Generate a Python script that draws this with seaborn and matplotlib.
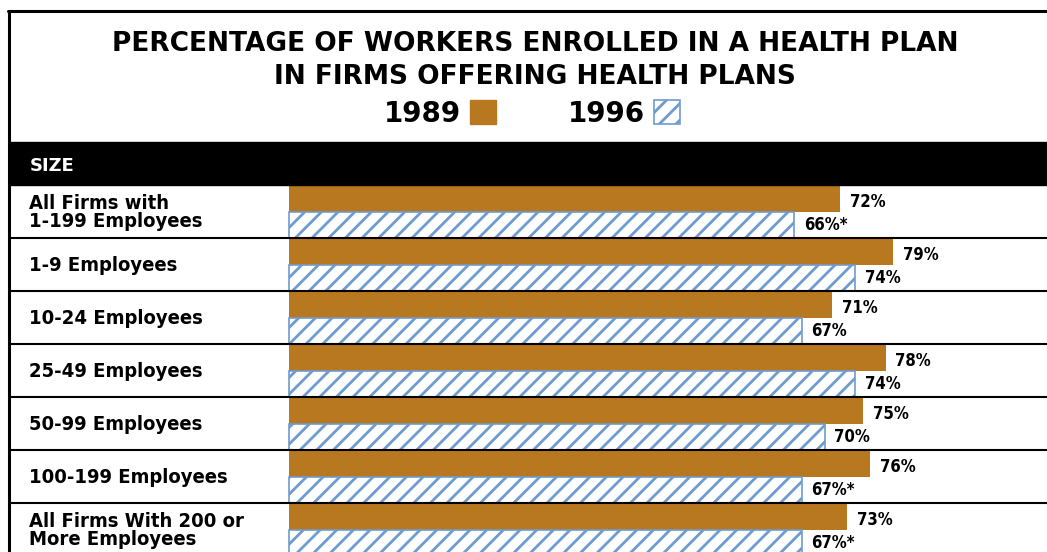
import numpy as np
import pandas as pd
import matplotlib
matplotlib.use("Agg")
import matplotlib.pyplot as plt
from matplotlib.patches import Rectangle, Patch
from matplotlib.lines import Line2D
import seaborn as sns

# data
sizes = ["All Firms with\n1-199 Employees", "1-9 Employees", "10-24 Employees",
         "25-49 Employees", "50-99 Employees", "100-199 Employees",
         "All Firms With 200 or\nMore Employees"]
pct_1989 = [72, 79, 71, 78, 75, 76, 73]
pct_1996 = [66, 74, 67, 74, 70, 67, 67]
labels_1989 = ["72%", "79%", "71%", "78%", "75%", "76%", "73%"]
labels_1996 = ["66%*", "74%", "67%", "74%", "70%", "67%*", "67%*"]
years = ["1989", "1996"]

brown = "#B87820"
blue = "#6E9BD0"

df = pd.DataFrame({
    "size": sizes * 2,
    "year": [years[0]] * len(sizes) + [years[1]] * len(sizes),
    "pct": pct_1989 + pct_1996,
})

sns.set_style("white")
plt.rcParams["font.family"] = ["DejaVu Sans"]
plt.rcParams["text.color"] = "black"
plt.rcParams["hatch.linewidth"] = 2.0

W, H = 1047, 552
fig = plt.figure(figsize=(W / 100, H / 100), dpi=100)

# axes: rows from y=185px down past the bottom edge, x from 10px to the right edge
ax = fig.add_axes([10 / W, -4 / H, 1 - 10 / W, 371 / H])
sns.barplot(data=df, y="size", x="pct", hue="year", hue_order=years, orient="h",
            palette=[brown, "white"], width=1.0, saturation=1, legend=False,
            ax=ax, linewidth=0)

for bar in ax.containers[1]:
    bar.set_hatch("//")
    bar.set_edgecolor(blue)
    bar.set_linewidth(1.2)

narrow = dict(fontfamily="DejaVu Sans", fontstretch="condensed", fontweight="bold")
anns = ax.bar_label(ax.containers[0], labels=labels_1989, padding=7, fontsize=12,
                    color="black", **narrow)
for a in anns:
    a.xyann = (7, -2.5)  # 1989 labels sit a touch below the bar centre
ax.bar_label(ax.containers[1], labels=labels_1996, padding=7, fontsize=12,
             color="black", **narrow)

ax.set_xlim(-36.47, 99.08)
ax.set_ylim(6.5, -0.5)
ax.set_xlabel("")
ax.set_ylabel("")
ax.set_xticks([])
ax.set_yticks([])
for s in ax.spines.values():
    s.set_visible(False)
ax.patch.set_alpha(0)

# row separators and row labels
for i, name in enumerate(sizes):
    ax.axhline(i + 0.5, color="black", lw=1.5)
    ax.text(19 / 1037, i + 0.02, name, transform=ax.get_yaxis_transform(),
            ha="left", va="center", fontsize=14.5, linespacing=0.95, **narrow)

# black header band
fig.patches.append(Rectangle((10 / W, 1 - 185 / H), 1 - 10 / W, 43 / H,
                             transform=fig.transFigure, color="black", zorder=0))
fig.text(30 / W, 1 - 166 / H, "SIZE", color="white", fontsize=13,
         fontweight="bold", va="center", ha="left")

# frame lines
fig.add_artist(Line2D([8 / W, 1], [1 - 11 / H, 1 - 11 / H], color="black", lw=2.2))
fig.add_artist(Line2D([9 / W, 9 / W], [0, 1 - 11 / H], color="black", lw=2.2))

# title
fig.text(535 / W, 1 - 44 / H, "PERCENTAGE OF WORKERS ENROLLED IN A HEALTH PLAN",
         ha="center", va="center", fontsize=19, fontweight="bold")
fig.text(535 / W, 1 - 77 / H, "IN FIRMS OFFERING HEALTH PLANS",
         ha="center", va="center", fontsize=19, fontweight="bold")

# legend
handles = [Patch(facecolor=brown, edgecolor=brown),
           Patch(facecolor="white", edgecolor=blue, hatch="//", linewidth=1.2)]
fig.legend(handles, years, loc="center", bbox_to_anchor=(532 / W, 1 - 114 / H),
           ncol=2, markerfirst=False, frameon=False,
           prop={"weight": "bold", "size": 20},
           handlelength=0.95, handleheight=0.95, handletextpad=0.3,
           columnspacing=2.6, borderpad=0, borderaxespad=0)

fig.savefig("out.png", dpi=100)
